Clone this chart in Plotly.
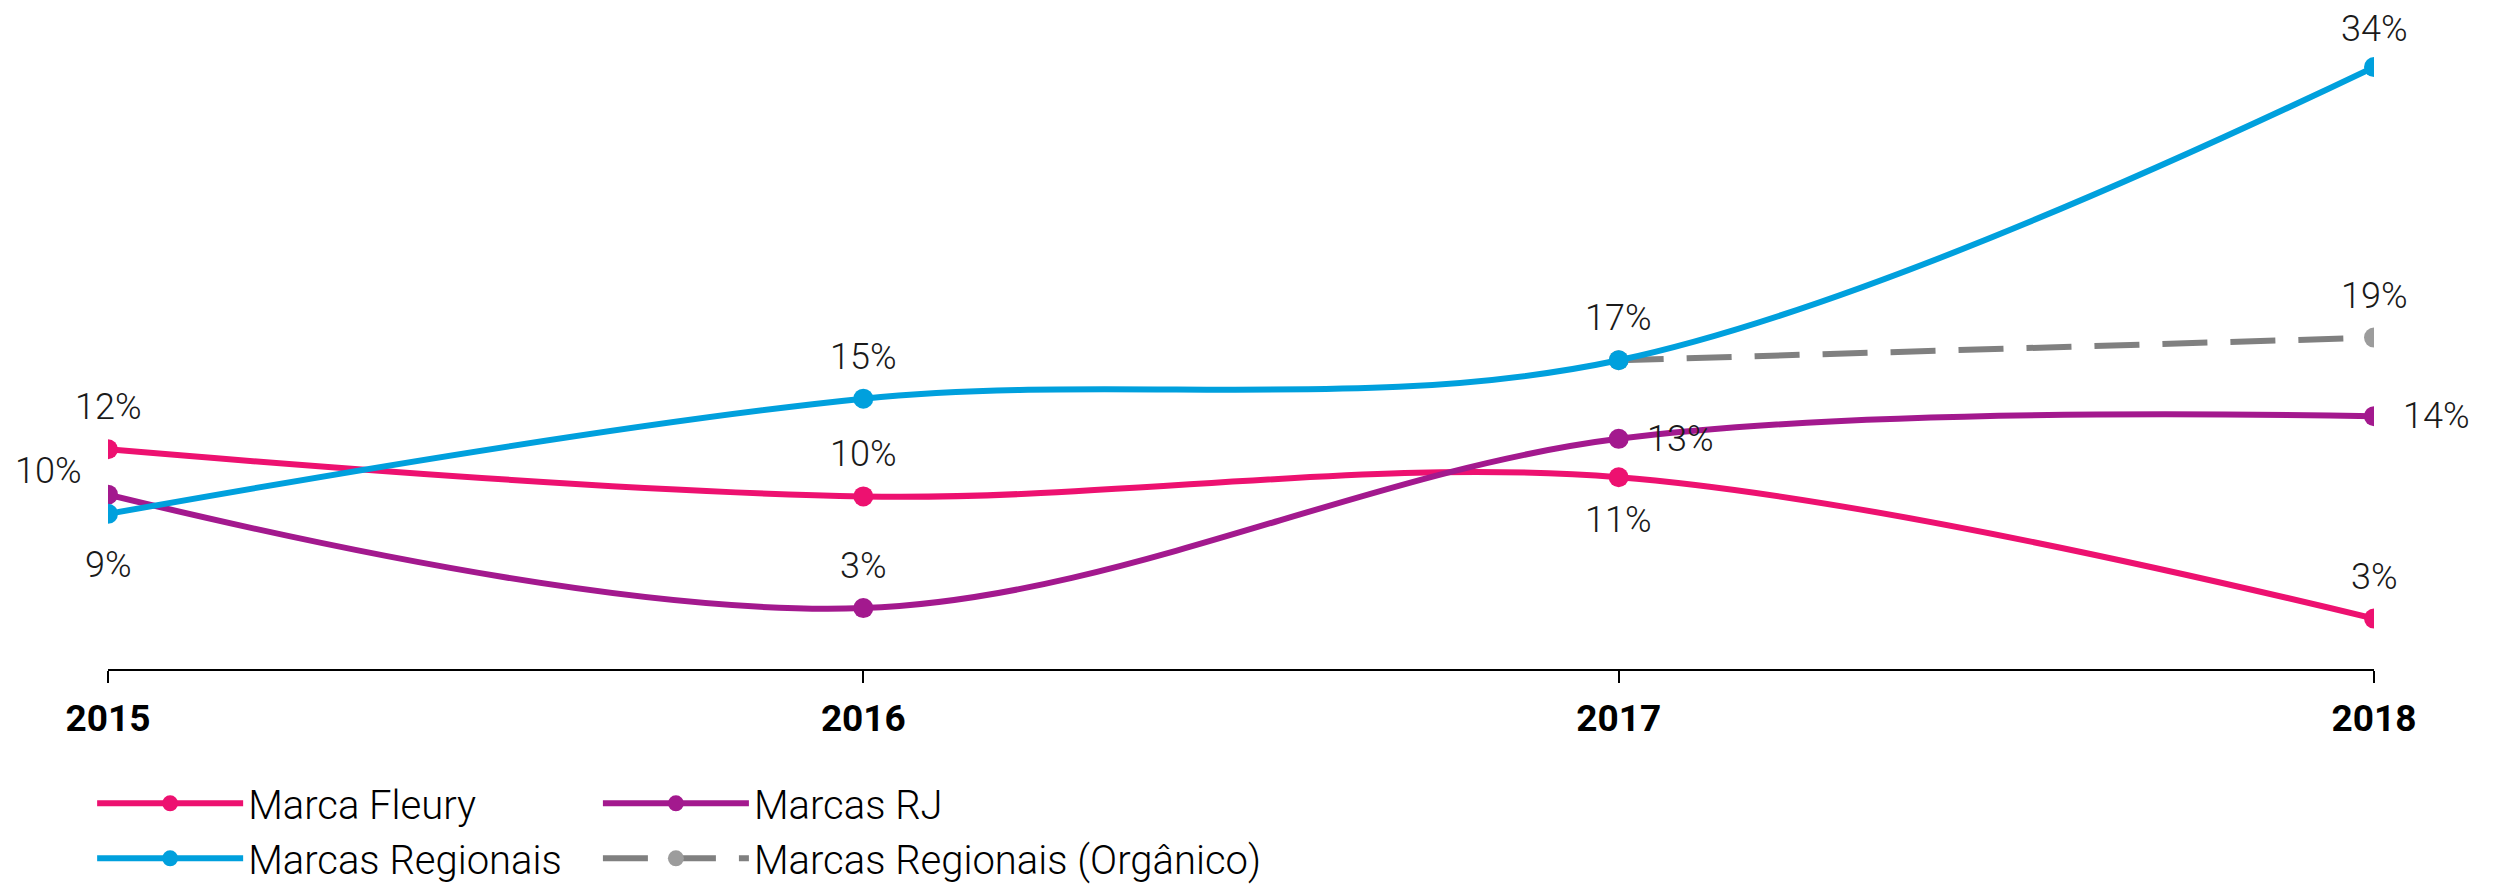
import plotly.graph_objects as go

years = [2015, 2016, 2017, 2018]
tick_labels = ["2015", "2016", "2017", "2018"]

fleury = [12.1, 9.4, 10.5, 2.4]
fleury_labels = ["12%", "10%", "11%", "3%"]
fleury_pos = ["above", "above", "below", "above"]

rj = [9.5, 3.0, 12.7, 14.0]
rj_labels = ["10%", "3%", "13%", "14%"]
rj_pos = ["left", "above", "right", "right"]

regionais = [8.4, 15.0, 17.2, 34.0]
regionais_labels = ["9%", "15%", "17%", "34%"]
regionais_pos = ["below2", "above", "above", "top"]

organico_years = [2017, 2018]
organico = [17.2, 18.5]
organico_labels = ["", "19%"]
organico_pos = ["above", "above"]

C_FLEURY = "#ED1170"
C_RJ = "#A3198E"
C_REG = "#00A0DD"
C_ORG_LINE = "#808080"
C_ORG_MK = "#9C9C9C"

FONT = "Roboto, Liberation Sans, Arial, sans-serif"
LW = 6
MS = 20

# label offsets (pixels) for each placement keyword
OFFSETS = {
    "above": (0, 42),
    "top": (0, 38),
    "below": (0, -43),
    "below2": (0, -51),
    "right": (62, 0),
    "left": (-60, 24),
}

fig = go.Figure()

fig.add_trace(go.Scatter(
    x=organico_years, y=organico, name="Marcas Regionais (Orgânico)",
    mode="lines+markers", line=dict(color=C_ORG_LINE, width=LW, dash="45px,23px"),
    marker=dict(color=C_ORG_MK, size=MS), legend="legend2", legendrank=2))

fig.add_trace(go.Scatter(
    x=years, y=fleury, name="Marca Fleury",
    mode="lines+markers", line=dict(color=C_FLEURY, width=LW, shape="spline", smoothing=1),
    marker=dict(color=C_FLEURY, size=MS), legend="legend", legendrank=1))

fig.add_trace(go.Scatter(
    x=years, y=rj, name="Marcas RJ",
    mode="lines+markers", line=dict(color=C_RJ, width=LW, shape="spline", smoothing=1),
    marker=dict(color=C_RJ, size=MS), legend="legend2", legendrank=1))

fig.add_trace(go.Scatter(
    x=years, y=regionais, name="Marcas Regionais",
    mode="lines+markers", line=dict(color=C_REG, width=LW, shape="spline", smoothing=1),
    marker=dict(color=C_REG, size=MS), legend="legend", legendrank=2))

annotations = []
for xs, ys, labels, poss in [
    (years, fleury, fleury_labels, fleury_pos),
    (years, rj, rj_labels, rj_pos),
    (years, regionais, regionais_labels, regionais_pos),
    (organico_years, organico, organico_labels, organico_pos),
]:
    for xv, yv, lab, pos in zip(xs, ys, labels, poss):
        if not lab:
            continue
        dx, dy = OFFSETS[pos]
        annotations.append(dict(
            x=xv, y=yv, xref="x", yref="y", text=lab, showarrow=False,
            xanchor="center", yanchor="middle", xshift=dx, yshift=dy,
            font=dict(family=FONT, size=36, color="#1a1a1a", weight=300)))

legend_common = dict(
    orientation="v", xref="paper", xanchor="left",
    yref="container", y=0.141, yanchor="top",
    font=dict(family=FONT, size=40, color="#000000", weight=300),
    itemwidth=146, traceorder="normal", tracegroupgap=0,
    bgcolor="rgba(0,0,0,0)",
)

fig.update_layout(
    width=2496, height=888,
    margin=dict(l=100, r=130, t=12, b=227),
    paper_bgcolor="white", plot_bgcolor="white",
    showlegend=True,
    annotations=annotations,
    legend=dict(x=-0.007, **legend_common),
    legend2=dict(x=0.2162, **legend_common),
    xaxis=dict(
        range=[2015, 2018], tickvals=years, ticktext=tick_labels,
        showgrid=False, zeroline=False, showline=True, linecolor="#000000", linewidth=2,
        ticks="outside", ticklen=12, tickwidth=1.5, tickcolor="#000000",
        tickfont=dict(family=FONT, size=37, color="#000000", weight="bold"),
        ticklabelstandoff=4,
    ),
    yaxis=dict(range=[-0.49, 36.7], visible=False, showgrid=False, zeroline=False),
)

fig.write_html("out.html")
